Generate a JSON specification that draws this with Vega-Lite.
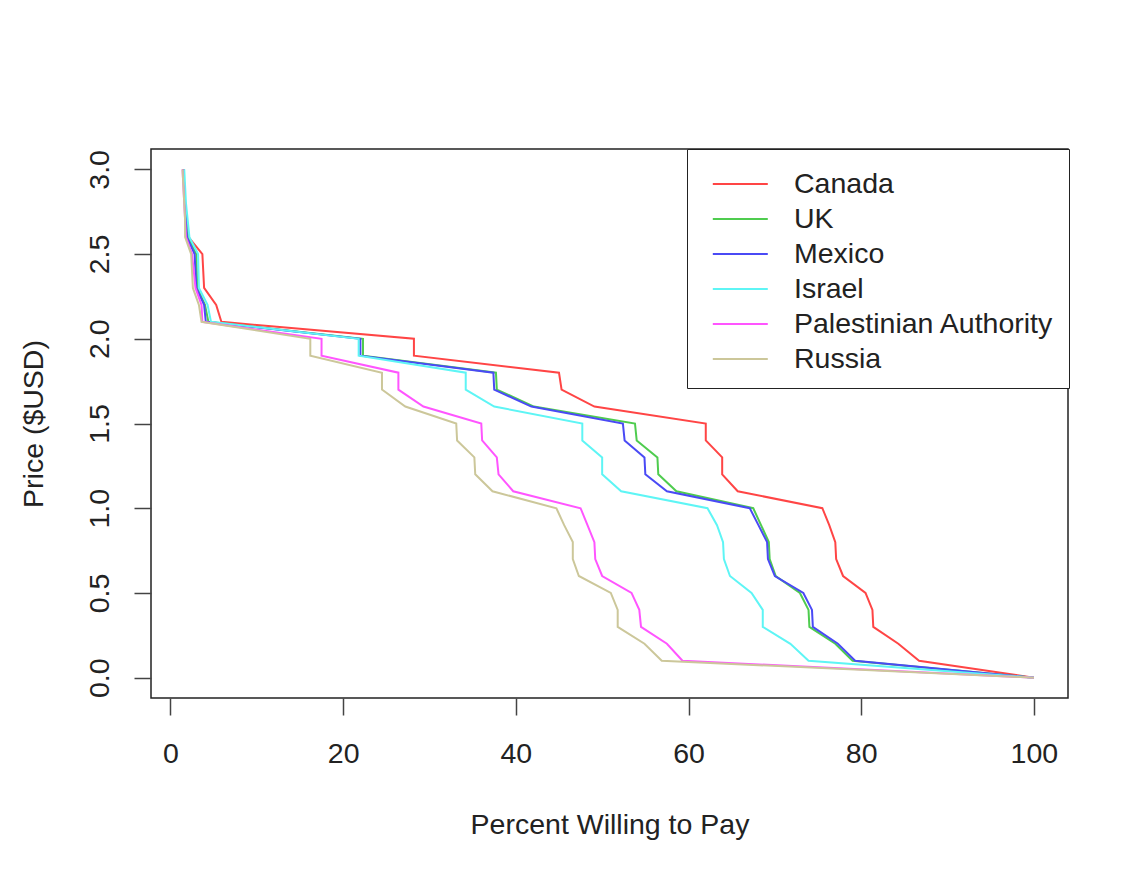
{
  "$schema": "https://vega.github.io/schema/vega-lite/v6.json",
  "width": 917,
  "height": 549,
  "autosize": {"type": "none"},
  "padding": {"left": 151, "top": 149, "right": 65, "bottom": 176},
  "background": "white",
  "config": {
    "font": "Liberation Sans",
    "view": {"stroke": "#222222", "strokeWidth": 1.5},
    "axis": {"grid": false, "domain": false, "tickColor": "#444444", "tickWidth": 1.5, "tickSize": 17,
             "labelFont": "Liberation Sans", "labelFontSize": 28.5, "labelColor": "#222222",
             "titleFont": "Liberation Sans", "titleFontSize": 28.5, "titleFontWeight": "normal", "titleColor": "#222222"},
    "legend": {"labelFont": "Liberation Sans", "labelFontSize": 28.5, "labelColor": "#222222"}
  },
  "data": {"values": [
    {"price": 3.0, "Canada": 1.5, "UK": 1.5, "Mexico": 1.5, "Israel": 1.6, "Palestinian Authority": 1.4, "Russia": 1.4},
    {"price": 2.9, "Canada": 1.6, "UK": 1.6, "Mexico": 1.6, "Israel": 1.7, "Palestinian Authority": 1.5, "Russia": 1.5},
    {"price": 2.8, "Canada": 1.7, "UK": 1.7, "Mexico": 1.7, "Israel": 1.8, "Palestinian Authority": 1.6, "Russia": 1.6},
    {"price": 2.7, "Canada": 1.9, "UK": 1.8, "Mexico": 1.8, "Israel": 2.0, "Palestinian Authority": 1.7, "Russia": 1.7},
    {"price": 2.6, "Canada": 2.1, "UK": 2.0, "Mexico": 1.9, "Israel": 2.2, "Palestinian Authority": 1.8, "Russia": 1.7},
    {"price": 2.5, "Canada": 3.7, "UK": 3.0, "Mexico": 2.8, "Israel": 3.2, "Palestinian Authority": 2.5, "Russia": 2.4},
    {"price": 2.4, "Canada": 3.8, "UK": 3.05, "Mexico": 2.9, "Israel": 3.25, "Palestinian Authority": 2.7, "Russia": 2.5},
    {"price": 2.3, "Canada": 3.9, "UK": 3.1, "Mexico": 3.0, "Israel": 3.3, "Palestinian Authority": 2.9, "Russia": 2.6},
    {"price": 2.2, "Canada": 5.3, "UK": 4.0, "Mexico": 3.9, "Israel": 4.3, "Palestinian Authority": 3.6, "Russia": 3.3},
    {"price": 2.1, "Canada": 5.9, "UK": 4.4, "Mexico": 4.1, "Israel": 4.7, "Palestinian Authority": 3.7, "Russia": 3.6},
    {"price": 2.0, "Canada": 28.2, "UK": 22.3, "Mexico": 22.0, "Israel": 21.8, "Palestinian Authority": 17.5, "Russia": 16.2},
    {"price": 1.9, "Canada": 28.2, "UK": 22.3, "Mexico": 22.0, "Israel": 21.8, "Palestinian Authority": 17.5, "Russia": 16.2},
    {"price": 1.8, "Canada": 45.0, "UK": 37.7, "Mexico": 37.4, "Israel": 34.2, "Palestinian Authority": 26.4, "Russia": 24.5},
    {"price": 1.7, "Canada": 45.3, "UK": 37.8, "Mexico": 37.5, "Israel": 34.2, "Palestinian Authority": 26.4, "Russia": 24.5},
    {"price": 1.6, "Canada": 49.1, "UK": 42.1, "Mexico": 41.8, "Israel": 37.5, "Palestinian Authority": 29.3, "Russia": 27.2},
    {"price": 1.5, "Canada": 62.0, "UK": 53.8, "Mexico": 52.4, "Israel": 47.7, "Palestinian Authority": 36.0, "Russia": 33.1},
    {"price": 1.4, "Canada": 62.0, "UK": 54.0, "Mexico": 52.6, "Israel": 47.7, "Palestinian Authority": 36.1, "Russia": 33.2},
    {"price": 1.3, "Canada": 63.9, "UK": 56.4, "Mexico": 54.9, "Israel": 50.0, "Palestinian Authority": 37.8, "Russia": 35.2},
    {"price": 1.2, "Canada": 63.9, "UK": 56.5, "Mexico": 55.0, "Israel": 50.0, "Palestinian Authority": 38.0, "Russia": 35.3},
    {"price": 1.1, "Canada": 65.7, "UK": 58.6, "Mexico": 57.5, "Israel": 52.2, "Palestinian Authority": 39.7, "Russia": 37.3},
    {"price": 1.0, "Canada": 75.5, "UK": 67.5, "Mexico": 67.1, "Israel": 62.2, "Palestinian Authority": 47.5, "Russia": 44.7},
    {"price": 0.9, "Canada": 76.3, "UK": 68.4, "Mexico": 68.1, "Israel": 63.3, "Palestinian Authority": 48.3, "Russia": 45.6},
    {"price": 0.8, "Canada": 77.0, "UK": 69.3, "Mexico": 69.1, "Israel": 64.0, "Palestinian Authority": 49.1, "Russia": 46.6},
    {"price": 0.7, "Canada": 77.1, "UK": 69.4, "Mexico": 69.2, "Israel": 64.1, "Palestinian Authority": 49.2, "Russia": 46.6},
    {"price": 0.6, "Canada": 77.9, "UK": 70.1, "Mexico": 70.0, "Israel": 64.8, "Palestinian Authority": 50.0, "Russia": 47.3},
    {"price": 0.5, "Canada": 80.5, "UK": 72.9, "Mexico": 73.3, "Israel": 67.3, "Palestinian Authority": 53.4, "Russia": 51.0},
    {"price": 0.4, "Canada": 81.3, "UK": 73.9, "Mexico": 74.3, "Israel": 68.6, "Palestinian Authority": 54.3, "Russia": 51.8},
    {"price": 0.3, "Canada": 81.4, "UK": 74.0, "Mexico": 74.4, "Israel": 68.6, "Palestinian Authority": 54.5, "Russia": 51.8},
    {"price": 0.2, "Canada": 84.3, "UK": 77.0, "Mexico": 77.3, "Israel": 71.8, "Palestinian Authority": 57.5, "Russia": 54.9},
    {"price": 0.1, "Canada": 86.7, "UK": 79.0, "Mexico": 79.3, "Israel": 73.9, "Palestinian Authority": 59.3, "Russia": 56.9},
    {"price": 0.0, "Canada": 100, "UK": 100, "Mexico": 100, "Israel": 100, "Palestinian Authority": 100, "Russia": 100}
  ]},
  "transform": [
    {"fold": ["Canada", "UK", "Mexico", "Israel", "Palestinian Authority", "Russia"], "as": ["country", "pct"]}
  ],
  "mark": {"type": "line", "strokeWidth": 2, "clip": false},
  "encoding": {
    "x": {"field": "pct", "type": "quantitative",
          "scale": {"domain": [-2.25, 103.95], "nice": false, "zero": false},
          "axis": {"values": [0, 20, 40, 60, 80, 100], "title": "Percent Willing to Pay",
                   "labelPadding": 47, "labelBaseline": "alphabetic", "labelAlign": "center",
                   "titleX": 458.5, "titleY": 135, "titleBaseline": "alphabetic", "titleAlign": "center"}},
    "y": {"field": "price", "type": "quantitative",
          "scale": {"domain": [-0.12, 3.12], "nice": false, "zero": false},
          "axis": {"values": [0, 0.5, 1, 1.5, 2, 2.5, 3], "format": ".1f", "title": "Price ($USD)",
                   "labelAngle": -90, "labelAlign": "center", "labelBaseline": "alphabetic", "labelPadding": 26,
                   "titleAngle": -90, "titleX": -109, "titleY": 274.5, "titleBaseline": "alphabetic", "titleAlign": "center"}},
    "color": {"field": "country", "type": "nominal",
              "scale": {"domain": ["Canada", "UK", "Mexico", "Israel", "Palestinian Authority", "Russia"],
                        "range": ["#FF4545", "#4FCC4F", "#4A4AF5", "#5EF5F5", "#FF55FF", "#CCC79A"]},
              "legend": {"title": null, "orient": "none", "legendX": 536, "legendY": 0,
                         "symbolType": "M-1.41,0H1.41", "symbolSize": 1521, "symbolStrokeWidth": 2,
                         "symbolOffset": 18.3, "labelOffset": 33.2, "labelLimit": 0, "padding": 14.5, "rowPadding": 0,
                         "strokeColor": "#222222", "fillColor": "white"}},
    "order": {"field": "price", "sort": "descending"}
  }
}
